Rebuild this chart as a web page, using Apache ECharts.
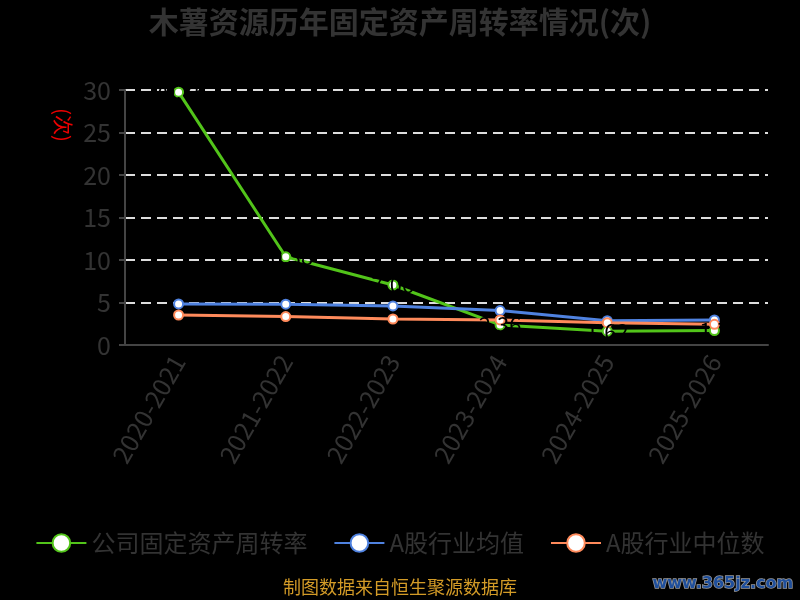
<!DOCTYPE html>
<html><head><meta charset="utf-8">
<script src="https://cdn.jsdelivr.net/npm/echarts@6/dist/echarts.min.js"></script>
<style>html,body{margin:0;padding:0;background:#000;}#c{width:800px;height:600px;}</style>
</head><body><div id="c"></div>
<script>
const categories = ['2020-2021','2021-2022','2022-2023','2023-2024','2024-2025','2025-2026'];
const companyRate = [29.75, 10.38, 7.06, 2.36, 1.62, 1.7];
const industryAvg = [4.83, 4.8, 4.6, 4.05, 2.86, 2.94];
const industryMedian = [3.53, 3.35, 3.06, 2.95, 2.62, 2.43];
const seriesNames = ['公司固定资产周转率','A股行业均值','A股行业中位数'];
const yTicks = {min:0, max:30, interval:5};

const font = '"Noto Sans CJK SC","Noto Sans",sans-serif';
const chart = echarts.init(document.getElementById('c'));
function mk(name, data, color, label){
  return {
    name, type:'line', data, symbol:'circle', symbolSize:9,
    itemStyle:{color:'#fff', borderColor:color, borderWidth:2},
    lineStyle:{color:color, width:3},
    label: label ? {show:true, position:'inside', color:'#000', fontSize:22, fontFamily:font} : {show:false}
  };
}
chart.setOption({
  backgroundColor:'#000',
  title:{text:'木薯资源历年固定资产周转率情况(次)', left:'center', top:2,
    textStyle:{color:'#333', fontSize:30, fontWeight:'bold', fontFamily:font}},
  grid:{left:125, right:32, top:90, bottom:255},
  legend:{data:seriesNames, bottom:40, left:'center', itemWidth:50, itemHeight:22, itemGap:26,
    textStyle:{color:'#333', fontSize:24, fontFamily:font}},
  xAxis:{type:'category', data:categories, boundaryGap:true,
    axisLine:{lineStyle:{color:'#444', width:2}},
    axisTick:{lineStyle:{color:'#444', width:2}, length:6},
    axisLabel:{rotate:60, color:'#333', fontSize:25, fontFamily:font, margin:12}},
  yAxis:{type:'value', min:yTicks.min, max:yTicks.max, interval:yTicks.interval,
    axisLine:{show:true, lineStyle:{color:'#444', width:2}},
    axisTick:{show:true, lineStyle:{color:'#444', width:2}, length:6},
    axisLabel:{color:'#333', fontSize:25, fontFamily:font, margin:14},
    splitLine:{lineStyle:{color:'#ddd', type:[10,6], width:2}}},
  graphic:[
    {type:'text', x:63, y:125, rotation:-Math.PI/2, style:{text:'(次)', fill:'#e00', font:'20px '+font, textAlign:'center', textVerticalAlign:'middle'}},
    {type:'text', left:'center', top:578, style:{text:'制图数据来自恒生聚源数据库', fill:'#d39b27', font:'18px '+font}},
    {type:'text', right:6, top:575, style:{text:'www.365jz.com', fill:'#1f4f9c', stroke:'#999', lineWidth:1.5, font:'bold 16px "DejaVu Sans",sans-serif'}}
  ],
  series:[
    mk(seriesNames[0], companyRate, '#52c41a', true),
    mk(seriesNames[1], industryAvg, '#4f82e0', false),
    mk(seriesNames[2], industryMedian, '#ff8a5b', false)
  ]
});
</script></body></html>
